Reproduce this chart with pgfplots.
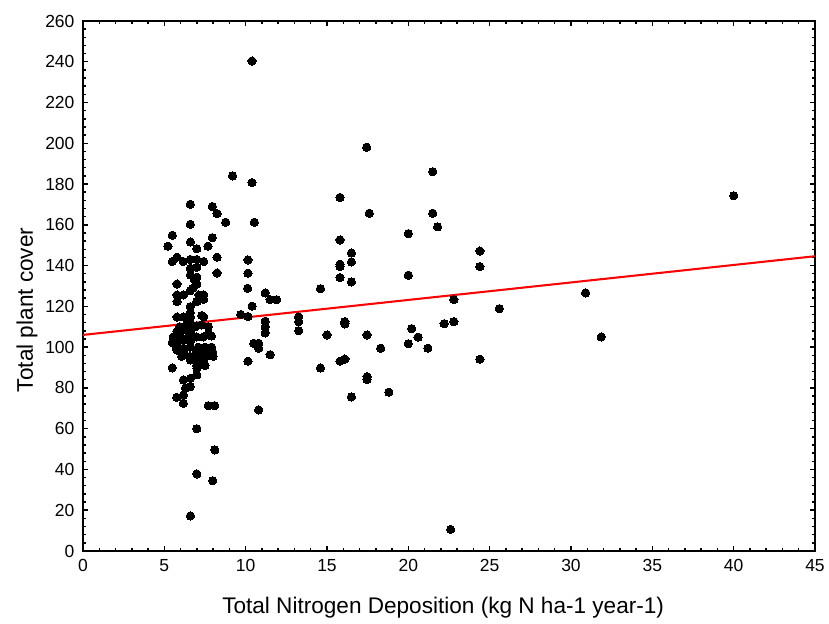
\documentclass[border=0pt]{standalone}
\usepackage{pgfplots}
\pgfplotsset{compat=1.18}
\usepackage{fontspec}
\setmainfont{Liberation Sans}
\begin{document}
\begin{tikzpicture}
\begin{axis}[
  scale only axis,
  width=10.596cm, height=7.672cm,
  xmin=0, xmax=45, ymin=0, ymax=260,
  xtick={0,5,...,45}, ytick={0,20,...,260},
  minor x tick num=4, minor y tick num=4,
  tick align=inside,
  xtick pos=both, ytick pos=both,
  major tick length=2.2pt, minor tick length=1.3pt,
  every tick/.style={black, line width=0.6pt},
  axis line style={line width=0.9pt},
  tick label style={font=\fontsize{7.2}{8}\selectfont},
  /pgf/number format/assume math mode=true,
  xlabel={Total Nitrogen Deposition (kg N ha-1 year-1)},
  ylabel={Total plant cover},
  label style={font=\fontsize{9.3}{11}\selectfont},
  xlabel style={at={(axis description cs:0.492,-0.106)}, anchor=center},
  ylabel style={at={(axis description cs:-0.0765,0.455)}, anchor=center},
]
\coordinate (SW) at (rel axis cs:0,0);
\coordinate (NE) at (rel axis cs:1,1);
\addplot[red, line width=0.85pt] coordinates {(0,106) (45,144.6)};
\addplot[only marks, mark=*, mark size=1.7pt, black, mark options={fill=black, draw=black, line width=0pt}] coordinates {
(5.22,149.5) (5.49,154.9) (5.49,142) (5.78,144.1) (6.17,142) (6.6,143) (7.0,143) (7.42,142) (8.24,144.1)
(6.6,170.1) (7.95,169) (8.24,165.5) (8.77,161.3) (6.6,160.3) (6.6,151.6) (7.95,153.7) (7.68,149.5) (7.0,148.3)
(6.6,138.7) (7.0,139.2) (8.24,136.4) (6.6,135.4) (7.0,134.3) (6.86,133) (5.78,131) (7.0,131) (6.74,128.9) (6.6,127.7)
(5.78,125.6) (6.17,125.6) (7.13,125.6) (7.42,125.6) (7.42,123.5) (5.78,122.3) (7.0,122.3) (6.6,119.9) (6.6,116.9)
(5.78,114.8) (6.17,114.8) (6.6,114.8) (7.3,115.5) (7.42,114.8)
(6.6,111.7) (7.0,110.5) (7.3,110.9) (7.7,110) (5.96,110) (6.37,111) (6.88,110)
(5.78,107.6) (6.17,108.4) (6.6,107.6)
(5.55,105) (5.96,105) (6.47,105) (6.99,105) (7.4,105) (7.9,105.5) (7.7,106.5)
(5.49,102.2) (5.78,102.2) (6.17,103.5) (6.6,103)
(5.76,100) (6.17,99.5) (6.58,100) (7.09,100) (7.5,100) (7.9,100)
(5.78,98.6) (6.17,97.8) (7.0,97.8) (7.42,97.8) (7.95,98)
(6.07,95.5) (6.58,95.5) (7.09,95.5) (7.6,95.5) (8.0,95.5)
(6.6,93.7) (7.0,92.9) (7.42,93.5) (6.99,91) (7.5,91)
(5.49,89.8) (7.0,89.6) (7.0,86.4) (6.17,83.9) (6.6,84.7) (6.3,79.8) (6.6,80.6) (5.76,75.4) (6.17,76.5) (6.17,72.5)
(7.7,71.3) (8.1,71.3) (7.0,60) (8.1,49.6) (7.0,37.8) (7.97,34.5) (6.6,17.2)
(9.2,184) (10.39,240.4) (10.39,180.7) (10.53,161.3) (10.14,142.8) (10.14,136.3) (10.12,128.9) (11.2,126.6)
(11.5,123.3) (11.9,123.3) (10.4,120.1) (9.7,116) (10.14,115) (11.2,112.7) (11.2,110) (11.2,107)
(13.26,114.8) (13.26,112.5) (13.26,108.1) (10.5,101.9) (10.8,101.9) (10.8,99.5) (11.5,96.3) (10.14,93.1) (10.8,69.2)
(15.8,173.5) (17.44,198.1) (17.6,165.7) (15.8,152.6) (16.5,146.2) (15.8,140.7) (15.8,139.5) (16.5,141.8) (15.8,134.1)
(16.5,132) (14.6,128.7) (16.1,112.5) (16.1,111.4) (15.0,106) (17.46,106) (18.3,99.5)
(15.8,93.1) (16.1,94.2) (14.6,89.8) (17.46,85.5) (17.46,84.2) (16.5,75.6)
(21.5,186.1) (21.5,165.7) (21.8,159) (20.0,155.7) (24.4,147.2) (24.4,139.5) (20.0,135.3) (22.8,123.3) (25.6,118.9)
(20.2,109.1) (20.6,104.9) (20.0,101.7) (21.2,99.5) (22.2,111.5) (22.8,112.5) (24.4,94.1) (18.8,77.9) (22.6,10.6)
(30.9,126.6) (31.86,105) (40.0,174.3)
};
\end{axis}
\pgfresetboundingbox
\path ([shift={(-1.2015cm,-1.0567cm)}]SW) rectangle ([shift={(0.2027cm,0.304cm)}]NE);
\end{tikzpicture}
\end{document}
